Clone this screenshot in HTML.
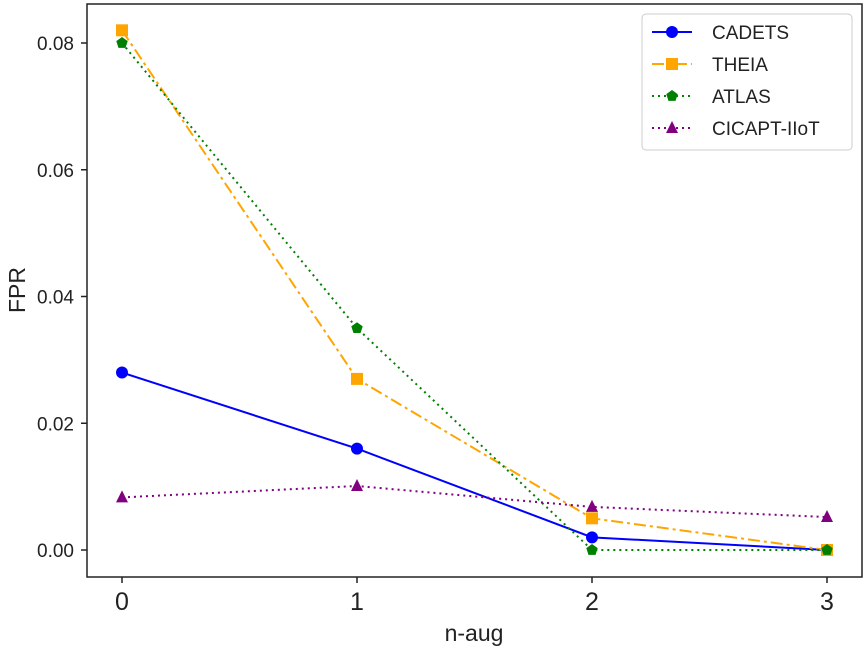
<!DOCTYPE html>
<html><head><meta charset="utf-8"><style>
body{margin:0;background:#fff;}
svg{display:block;font-family:"Liberation Sans","DejaVu Sans",sans-serif;}
</style></head><body>
<svg id="chart" width="865" height="649" viewBox="0 0 865 649">
<rect x="87" y="4" width="775" height="573" fill="#fff" stroke="#222" stroke-width="1.5"/>
<g id="axes"></g>
<g id="series"></g>
<text x="474" y="641" font-size="23" text-anchor="middle" fill="#222">n-aug</text>
<text transform="translate(25,290) rotate(-90)" font-size="23" text-anchor="middle" fill="#222">FPR</text>
<g id="legend">
<rect x="642" y="14" width="210" height="136" rx="4" fill="#fff" stroke="#ccc"/>
</g>
</svg>
<script>
const categories=[0,1,2,3];
const xTicks=["0","1","2","3"];
const yTicks=[0,0.02,0.04,0.06,0.08];
const yTickLabels=["0.00","0.02","0.04","0.06","0.08"];
const cadets=[0.028,0.016,0.002,0.0];
const theia=[0.082,0.027,0.005,0.0];
const atlas=[0.080,0.035,0.0,0.0];
const cicapt=[0.0083,0.0101,0.0068,0.0052];
const seriesNames=["CADETS","THEIA","ATLAS","CICAPT-IIoT"];

const NS="http://www.w3.org/2000/svg";
function X(v){return 122+v*235;}
function Y(v){return 550-v*6337.5;}
function mk(tag,attrs,parent){const e=document.createElementNS(NS,tag);for(const k in attrs)e.setAttribute(k,attrs[k]);parent.appendChild(e);return e;}
const axes=document.getElementById('axes');
categories.forEach((c,i)=>{
  const t=mk('line',{x1:X(c),x2:X(c),y1:577,y2:583,stroke:'#222','stroke-width':1.5},axes);
  
  
  const l=mk('text',{x:X(c),y:610,'font-size':25,'text-anchor':'middle',fill:'#222'},axes);
  l.textContent=xTicks[i];
  
  
});
yTicks.forEach((v,i)=>{
  const t=mk('line',{x1:81,x2:87,y1:Y(v),y2:Y(v),stroke:'#222','stroke-width':1.5},axes);
  
  
  const l=mk('text',{x:74,y:Y(v)+7,'font-size':19,'text-anchor':'end',fill:'#222'},axes);
  l.textContent=yTickLabels[i];
  
  
});
const styles=[
 {data:cadets,color:'#0000ff',dash:'',marker:'circle',name:'cadets'},
 {data:theia,color:'#ffa500',dash:'12,4,3,4',marker:'square',name:'theia'},
 {data:atlas,color:'#008000',dash:'2,4',marker:'pentagon',name:'atlas'},
 {data:cicapt,color:'#800080',dash:'2,4',marker:'triangle',name:'cicapt-iiot'}
];
function marker(type,x,y,color,parent){
  let e;
  if(type==='circle')e=mk('circle',{cx:x,cy:y,r:6,fill:color},parent);
  else if(type==='square')e=mk('rect',{x:x-6,y:y-6,width:12,height:12,fill:color},parent);
  else if(type==='pentagon'){let p=[];for(let k=0;k<5;k++){const a=-Math.PI/2+k*2*Math.PI/5;p.push((x+6*Math.cos(a))+','+(y+6*Math.sin(a)));}e=mk('polygon',{points:p.join(' '),fill:color},parent);}
  else e=mk('polygon',{points:`${x},${y-7} ${x-6},${y+5} ${x+6},${y+5}`,fill:color},parent);
  return e;
}
const sg=document.getElementById('series');
styles.forEach(s=>{
  const pts=s.data.map((v,i)=>X(categories[i])+','+Y(v)).join(' ');
  const pl=mk('polyline',{points:pts,fill:'none',stroke:s.color,'stroke-width':2,'stroke-dasharray':s.dash},sg);
  
  
  s.data.forEach((v,i)=>{
    const m=marker(s.marker,X(categories[i]),Y(v),s.color,sg);
    
    
  });
});
const lg=document.getElementById('legend');
styles.forEach((s,i)=>{
  const y=32+i*32;
  const l=mk('line',{x1:652,x2:692,y1:y,y2:y,stroke:s.color,'stroke-width':2,'stroke-dasharray':s.dash},lg);
  
  
  const m=marker(s.marker,672,y,s.color,lg);
  
  
  const t=mk('text',{x:712,y:y+7,'font-size':19,fill:'#222'},lg);
  t.textContent=seriesNames[i];
  
  
});
</script>
</body></html>
